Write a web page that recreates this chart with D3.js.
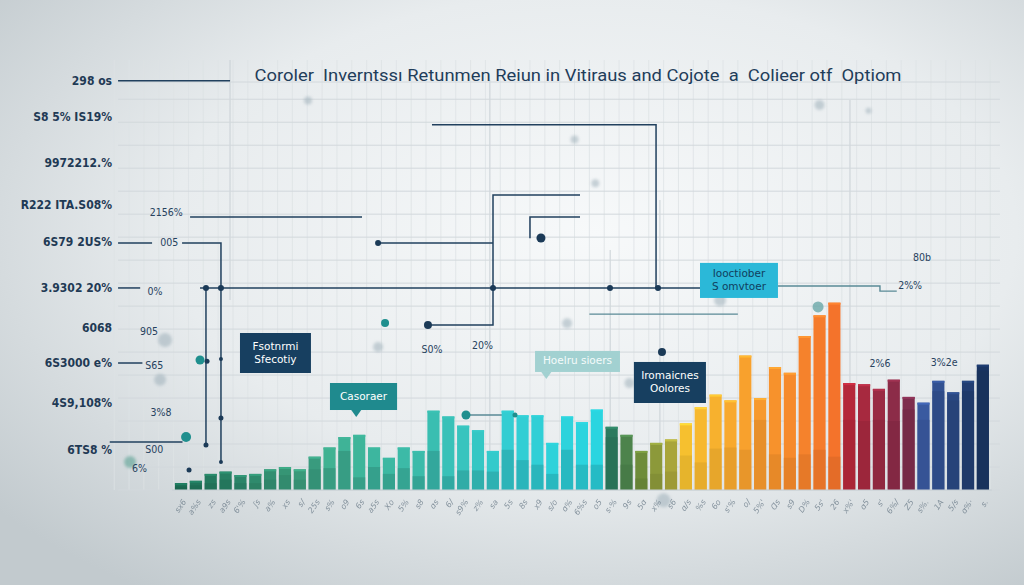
<!DOCTYPE html>
<html><head><meta charset="utf-8">
<script src="https://cdn.jsdelivr.net/npm/d3@7"></script>
<style>html,body{margin:0;padding:0;overflow:hidden;background:#dfe4e7}</style>
</head><body>
<svg id="c" width="1024" height="585"></svg>
<script>
// ---------------- DATA ----------------
const categories = [
 "sx6","a%s","zs","a9s","6'%","ʃs","a%","xs","s/","25s","s%",
 "o9","6s","a5s","Xo","5%","s8","ɑs","6/","s9%","z%","sa",
 "5s","8s","x9","s/o","ɑ%","6%s","o5","s·%","9s","5ɑ","x%",
 "s6","ɑ/s","%s","6o","s'%","o/","5%'","Ɑs","s9","D%","5s'",
 "26","x%'","ɑ5","s'","6%/","Z5","s%.","1A","5/s","ɑ%·","s."
];
const values = [
 0.6,0.8,1.4,1.6,1.3,1.4,1.8,2.0,1.8,2.9,
 3.7,4.6,4.8,3.7,2.8,3.7,3.4,6.9,6.4,5.6,
 5.2,3.4,6.9,6.5,6.5,4.1,6.4,5.9,7.0,5.5,
 4.8,3.4,4.1,4.4,5.8,7.2,8.3,7.8,11.7,8.0,
 10.7,10.2,13.4,15.2,16.3,9.3,9.2,8.8,9.6,8.1,
 7.6,9.5,8.5,9.5,10.9
];
const lowerValues = [
 0.3,0.4,0.6,0.9,0.6,0.6,0.9,1.3,0.9,1.8,
 1.9,3.4,1.1,2.0,1.4,1.9,1.2,3.4,1.2,1.7,
 1.7,1.6,3.5,2.6,2.2,1.4,3.5,2.2,2.2,4.6,
 2.2,1.0,1.4,1.6,3.0,2.4,3.6,3.7,3.5,6.1,
 3.1,2.8,3.1,3.5,2.9,6.1,6.0,6.1,6.0,7.0,
 6.1,8.6,7.8,8.6,10.4
];
const yTickValues = [35.6, 32.5, 28.5, 24.8, 21.6, 17.6, 14.1, 11.05, 7.57, 3.48];
const yTickLabels = ["298 os","S8 5% IS19%","9972212.%","R222 ITA.S08%","6S79 2US%","3.9302 20%","6068","6S3000 e%","4S9,108%","6TS8 %"];
const titleText = "Coroler  Inverntss\u0131 Retunmen Reiun in Vitiraus and Cojote  a  Colieer otf  Optiom";
const calloutTexts = [["Fsotnrmi","Sfecotiy"],["Casoraer"],["Hoelru sioers"],["Iromaicnes","Oolores"],["Iooctiober","S omvtoer"]];
const noteTexts = ["2156%","005","0%","905","S65","3%8","S00","6%","S0%","20%","80b","2%%","2%6","3%2e"];

// ---------------- LAYOUT ----------------
const W = 1024, H = 585;
const svg = d3.select("#c");
const x = d3.scaleBand().domain(categories).range([173.6, 990.3]).paddingInner(0.18).paddingOuter(0.09);
const y = d3.scaleLinear().domain([0, 35.5]).range([490, 82]);
const xi = d3.scaleLinear().domain([0, categories.length - 1])
  .range([x(categories[0]) + x.bandwidth()/2, x(categories[categories.length-1]) + x.bandwidth()/2]);
const color = d3.scaleLinear()
  .domain([0,8,16,22,28,29,31,33,34,38,44,45,49,50,54])
  .range(["#1c6e55","#3a9a7a","#34a596","#2db5b9","#25bcc6","#2b7a5e","#6e8c3a","#a9a53a","#f6c02f","#f8a12d","#f4732b","#b5283a","#7e2d4d","#3a5aa0","#1a3563"])
  .interpolate(d3.interpolateRgb);

// background
const defs = svg.append("defs");
const rg = defs.append("radialGradient").attr("id","bg").attr("cx","58%").attr("cy","40%").attr("r","75%");
rg.append("stop").attr("offset","0%").attr("stop-color","#f7f9fa");
rg.append("stop").attr("offset","55%").attr("stop-color","#e8ecee");
rg.append("stop").attr("offset","100%").attr("stop-color","#c2cace");
svg.append("rect").attr("width",W).attr("height",H).attr("fill","url(#bg)");
const blur = defs.append("filter").attr("id","blur").attr("x","-50%").attr("y","-50%").attr("width","200%").attr("height","200%");
blur.append("feGaussianBlur").attr("stdDeviation",1.6);

// vertical fine grid
const g = svg.append("g");
g.selectAll("line.vg").data(d3.range(-4, 56)).join("line")
  .attr("x1", d => xi(d - 0.5)).attr("x2", d => xi(d - 0.5))
  .attr("y1", 60).attr("y2", 490)
  .attr("stroke", "#dde2e5").attr("stroke-width", 0.8);
[[3.3,60,300],[20.8,80,490],[28.9,250,490],[32.25,200,490],[45.05,100,490]].forEach(([i,y1,y2]) => {
  g.append("line").attr("x1", xi(i)).attr("x2", xi(i)).attr("y1", y1).attr("y2", y2)
   .attr("stroke", "#c9d0d5").attr("stroke-width", 1);
});
const hTicks = y.ticks(18).concat([35.5]);
g.selectAll("line.hg").data(hTicks).join("line")
  .attr("x1", xi(-4.24)).attr("x2", xi(55.15))
  .attr("y1", d => y(d)).attr("y2", d => y(d))
  .attr("stroke", "#d2d8dc").attr("stroke-width", 1);

// title
svg.append("text").attr("x", 578).attr("y", 81).attr("text-anchor","middle")
  .attr("font-family","Roboto, 'Liberation Sans', sans-serif").attr("font-size",17)
  .attr("fill","#1f3d5a").attr("textLength", 647).attr("lengthAdjust","spacingAndGlyphs")
  .style("white-space","pre").text(titleText);

// y axis labels
const yAxis = d3.axisLeft(y).tickValues(yTickValues).tickSize(0).tickPadding(0)
  .tickFormat((d,i) => yTickLabels[i]);
const ya = svg.append("g").attr("transform","translate(112,0)").call(yAxis);
ya.select(".domain").remove();
ya.selectAll("text").attr("font-family","'DejaVu Sans Condensed','DejaVu Sans',sans-serif")
  .attr("font-weight","bold").attr("font-size",12).attr("fill","#1f3a55");

// annotation lines (navy)
const line = d3.line().x(d => xi(d[0])).y(d => y(d[1]));
const navyLines = [
 [[-4.24,35.6],[3.3,35.6]],
 [[16.9,31.77],[31.99,31.77],[31.99,17.58]],
 [[0.61,23.76],[12.19,23.76]],
 [[-4.24,21.5],[-1.95,21.5]],
 [[0.07,21.5],[2.69,21.5],[2.69,2.44]],
 [[1.68,17.58],[1.68,3.9]],
 [[13.27,21.5],[21.01,21.5]],
 [[26.87,25.67],[21.01,25.67],[21.01,14.36],[16.63,14.36]],
 [[23.5,21.9],[23.5,23.76],[26.87,23.76]],
 [[-4.24,17.58],[-2.75,17.58]],
 [[1.28,17.58],[34.95,17.58]],
 [[-4.24,11.05],[-2.6,11.05]],
 [[-4.8,4.18],[0.1,4.18]]
];
svg.append("g").selectAll("path").data(navyLines).join("path")
  .attr("d", line).attr("fill","none").attr("stroke","#21405e").attr("stroke-width",1.5);
const softLines = [
 [[40.2,17.75],[47.07,17.75],[47.07,17.3],[48.2,17.3]],
 [[27.5,15.3],[37.5,15.3]],
 [[19.19,6.53],[22.49,6.53]]
];
svg.append("g").selectAll("path").data(softLines).join("path")
  .attr("d", line).attr("fill","none").attr("stroke","#5a8a96").attr("stroke-width",1.4);

// grey blobs
const blobs = [[8.55,33.9,4],[26.5,30.5,4],[43.0,33.5,5],[27.9,26.7,4],[-1.08,13.05,7],[-1.41,9.6,6],
  [26.0,14.5,5],[36.3,16.5,6],[32.5,-0.9,7],[13.27,12.45,5],[-3.43,2.44,6],[46.3,33.0,3],[30.2,9.3,5]];
svg.append("g").selectAll("circle").data(blobs).join("circle")
  .attr("cx", d => xi(d[0])).attr("cy", d => y(d[1])).attr("r", d => d[2])
  .attr("fill", (d,i) => i === 10 ? "#4f9c8c" : "#9fb0ba").attr("opacity", 0.55).attr("filter","url(#blur)");

// bars
const bars = svg.append("g");
bars.selectAll("rect.b").data(values).join("rect")
  .attr("x", (d,i) => x(categories[i])).attr("width", x.bandwidth())
  .attr("y", d => y(d)).attr("height", d => y(0) - y(d))
  .attr("fill", (d,i) => i >= 10 && i <= 28 ? d3.color(color(i)).brighter(0.35) : color(i));
bars.selectAll("rect.l").data(lowerValues).join("rect")
  .attr("x", (d,i) => x(categories[i])).attr("width", x.bandwidth())
  .attr("y", d => y(d)).attr("height", d => y(0) - y(d))
  .attr("fill", (d,i) => d3.color(color(i)).darker(0.35)).attr("opacity",0.55);
bars.selectAll("rect.t").data(values).join("rect")
  .attr("x", (d,i) => x(categories[i])).attr("width", x.bandwidth())
  .attr("y", d => y(d)).attr("height", 2)
  .attr("fill", (d,i) => d3.color(color(i)).brighter(0.4));
svg.append("line").attr("x1", xi(-0.6)).attr("x2", xi(54.6)).attr("y1", y(0)).attr("y2", y(0))
  .attr("stroke","#c7cfd4").attr("stroke-width",1);

// x axis (tiny rotated labels)
const xa = svg.append("g").attr("transform", `translate(0,${y(0)+6})`)
  .call(d3.axisBottom(x).tickSize(0).tickPadding(4));
xa.select(".domain").remove();
xa.selectAll("text").attr("font-family","'DejaVu Sans',sans-serif").attr("font-size",8)
  .attr("font-style","italic").attr("fill","#6f7f8c").attr("opacity",0.8)
  .attr("text-anchor","end").attr("transform","rotate(-55)").attr("dx","-0.2em").attr("dy","0.5em");

// dots
const navyDots = [[1.68,17.58,3],[2.69,17.58,3],[21.01,17.58,3],[28.89,17.58,3],[32.12,17.58,3],[13.27,21.5,3],
  [24.24,21.93,4.5],[16.63,14.36,4],[32.39,12.0,4],[1.75,11.2,2.5],[2.69,11.4,2],[2.69,6.27,2.5],[1.68,3.92,2.5],[0.54,1.74,2.5],[2.69,2.44,2]];
svg.append("g").selectAll("circle").data(navyDots).join("circle")
  .attr("cx", d => xi(d[0])).attr("cy", d => y(d[1])).attr("r", d => d[2]).attr("fill","#1b3a57");
const tealDots = [[1.28,11.31,4.5],[0.34,4.61,5],[13.74,14.53,4],[19.19,6.53,4.5],[22.49,6.53,2.5],[42.9,15.93,5.5]];
svg.append("g").selectAll("circle").data(tealDots).join("circle")
  .attr("cx", d => xi(d[0])).attr("cy", d => y(d[1])).attr("r", d => d[2])
  .attr("fill", (d,i) => i === 5 ? "#6aa7a7" : "#1f8f8e").attr("opacity", (d,i) => i === 5 ? 0.8 : 1);

// notes
const notePos = [[-1.0,24.1],[-0.8,21.5],[-1.75,17.2],[-2.15,13.75],[-1.8,10.8],[-1.35,6.7],[-1.8,3.5],[-2.8,1.8],
  [16.9,12.2],[20.3,12.5],[49.9,20.2],[49.1,17.75],[47.07,10.97],[51.4,11.05]];
svg.append("g").selectAll("text").data(noteTexts).join("text")
  .attr("x", (d,i) => xi(notePos[i][0])).attr("y", (d,i) => y(notePos[i][1]))
  .attr("text-anchor","middle").attr("dominant-baseline","middle")
  .attr("font-family","'DejaVu Sans Condensed','DejaVu Sans',sans-serif").attr("font-size",10.5)
  .attr("fill","#27425e").text(d => d);

// callout boxes
const boxes = [
 {x0:3.97,x1:8.75,v0:13.66,v1:10.18,fill:"#173f60",tc:"#ffffff"},
 {x0:10.03,x1:14.55,v0:9.31,v1:6.96,fill:"#1f8a8e",tc:"#ffffff",ptr:11.8},
 {x0:23.84,x1:29.56,v0:12.1,v1:10.27,fill:"#a2d1d1",tc:"#f4fbfb",ptr:24.6},
 {x0:30.5,x1:35.35,v0:11.14,v1:7.57,fill:"#173f60",tc:"#ffffff"},
 {x0:34.95,x1:40.2,v0:19.76,v1:16.71,fill:"#2bb8d8",tc:"#11405f"}
];
const bg = svg.append("g");
boxes.forEach((b,k) => {
  const X0 = xi(b.x0), X1 = xi(b.x1), Y0 = y(b.v0), Y1 = y(b.v1);
  bg.append("rect").attr("x",X0).attr("y",Y0).attr("width",X1-X0).attr("height",Y1-Y0).attr("fill",b.fill);
  if (b.ptr !== undefined) {
    const px = xi(b.ptr);
    bg.append("path").attr("d",`M${px-5},${Y1} L${px+5},${Y1} L${px},${Y1+7} Z`).attr("fill",b.fill);
  }
  const lines = calloutTexts[k];
  const cy = (Y0+Y1)/2, lh = 13;
  lines.forEach((t,j) => {
    bg.append("text").attr("x",(X0+X1)/2).attr("y", cy + (j - (lines.length-1)/2)*lh)
      .attr("text-anchor","middle").attr("dominant-baseline","middle")
      .attr("font-family","'DejaVu Sans',sans-serif").attr("font-size",10.5)
      .attr("fill",b.tc).text(t);
  });
});
</script>
</body></html>
